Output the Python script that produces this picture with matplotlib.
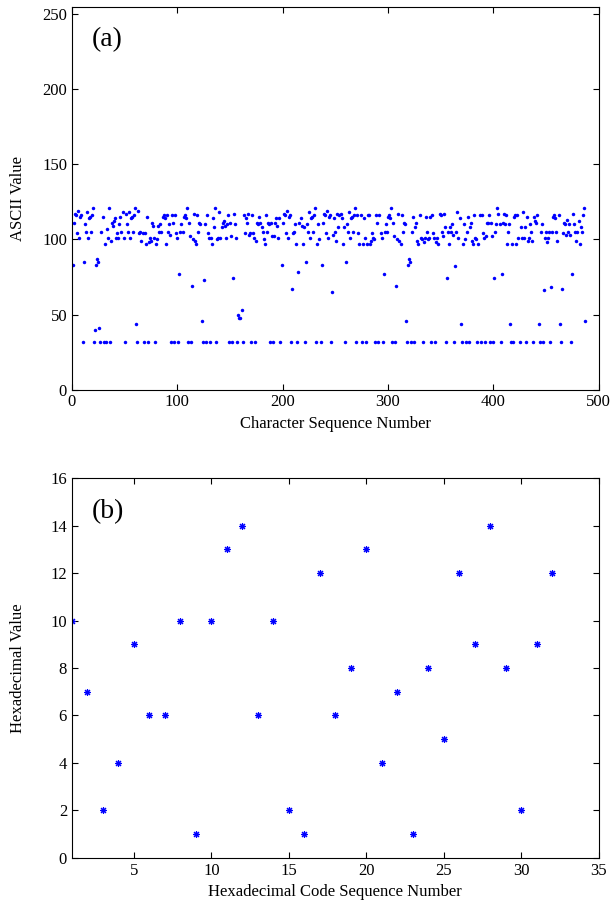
import numpy as np
import matplotlib
matplotlib.use("Agg")
import matplotlib.pyplot as plt

message = ("Southwest University (SWU) is a key comprehensive university, "
           "which has become administrating to the Ministry of Education. "
           "In the early development of June 2005 through the consolidation "
           "of former Southwest China Normal University and Southwest "
           "Agricultural University that are attached to the Ministry of "
           "Education. SWU is located besides the beautiful Jialing River, "
           "and is located at the foot of Jinyun Mountain, a state level "
           "scenic spot, in Beibei District, Chongqing Municipality.")
ascii_values = [ord(c) for c in message]
char_index = list(range(1, len(ascii_values) + 1))

# (b) hexadecimal code sequence
hex_values = [10, 7, 2, 4, 9, 6, 6, 10, 1, 10, 13, 14, 6, 10, 2, 1,
              12, 6, 8, 13, 4, 7, 1, 8, 5, 12, 9, 14, 8, 2, 9, 12]
hex_index = list(range(1, len(hex_values) + 1))

top_xticks = [0, 100, 200, 300, 400, 500]
top_yticks = [0, 50, 100, 150, 200, 250]
bot_xticks = [5, 10, 15, 20, 25, 30, 35]
bot_yticks = [0, 2, 4, 6, 8, 10, 12, 14, 16]

plt.rcParams['font.family'] = ['Liberation Serif', 'DejaVu Serif']
plt.rcParams['font.size'] = 12

fig = plt.figure(figsize=(6.12, 9.11), dpi=100)
ax1 = fig.add_axes([0.1176, 0.5723, 0.8604, 0.4205])
ax2 = fig.add_axes([0.1176, 0.0585, 0.8604, 0.4165])

# top panel
ax1.plot(char_index, ascii_values, 'o', color='blue', markersize=2.5,
         markeredgewidth=0, linestyle='none')
ax1.set_xlim(0, 500)
ax1.set_ylim(0, 255)
ax1.set_xticks(top_xticks)
ax1.set_yticks(top_yticks)
ax1.set_xlabel('Character Sequence Number')
ax1.set_ylabel('ASCII Value')
ax1.text(0.038, 0.913, '(a)', transform=ax1.transAxes, fontsize=20,
         va='center', ha='left')

# bottom panel
ax2.plot(hex_index, hex_values, linestyle='none', marker=(8, 2, 0),
         color='blue', markersize=5, markeredgewidth=0.8)
ax2.set_xlim(1, 35)
ax2.set_ylim(0, 16)
ax2.set_xticks(bot_xticks)
ax2.set_yticks(bot_yticks)
ax2.set_xlabel('Hexadecimal Code Sequence Number')
ax2.set_ylabel('Hexadecimal Value')
ax2.text(0.038, 0.912, '(b)', transform=ax2.transAxes, fontsize=20,
         va='center', ha='left')

for ax in (ax1, ax2):
    ax.tick_params(direction='in', top=True, right=True, length=4,
                   width=0.8, labelsize=12)
    ax.yaxis.set_label_coords(-0.088, 0.5)
    for sp in ax.spines.values():
        sp.set_linewidth(0.8)

fig.savefig('out.png', dpi=100)
